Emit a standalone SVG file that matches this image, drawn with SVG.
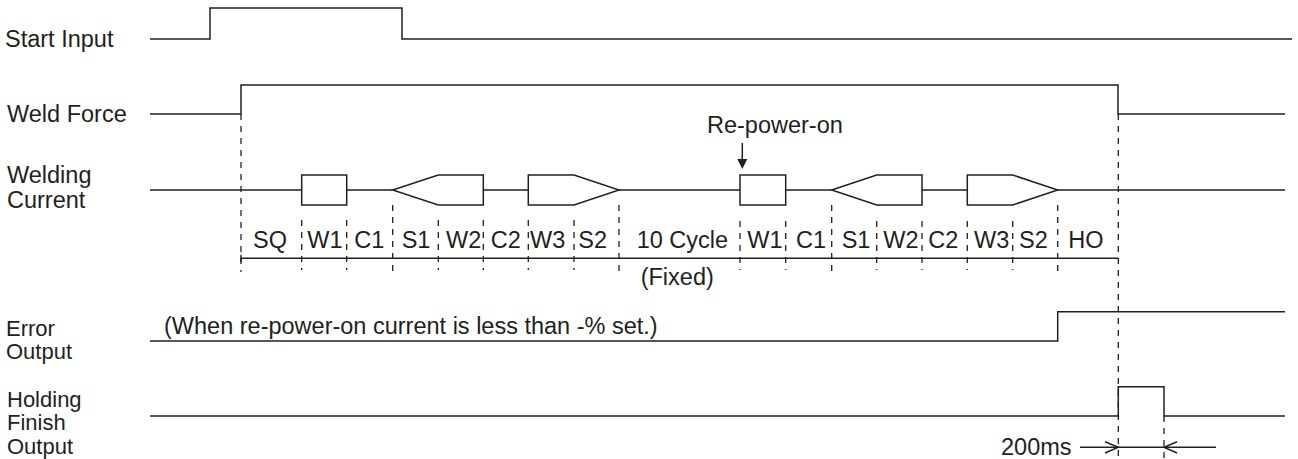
<svg xmlns="http://www.w3.org/2000/svg" width="1298" height="459" viewBox="0 0 1298 459">
<style>
.s{fill:none;stroke:#231f20;stroke-width:1.5;stroke-linejoin:miter}
.w{fill:#fff;stroke:#231f20;stroke-width:1.5}
.d{fill:none;stroke:#231f20;stroke-width:1.3;stroke-dasharray:6 6}
.t{font-family:"Liberation Sans",Arial,sans-serif;font-size:23.5px;fill:#231f20}
.m{font-size:22px}
</style>
<rect width="1298" height="459" fill="#fff"/>
<g id="start-input">
<text class="t" x="5" y="46.5">Start Input</text>
<polyline class="s" points="150,39 210,39 210,8 402,8 402,39 1292,39"/>
</g>
<g id="weld-force">
<text class="t" x="7" y="121.5">Weld Force</text>
<polyline class="s" points="150,114 241,114 241,85 1118,85 1118,114 1285,114"/>
</g>
<g id="welding-current">
<text class="t" x="7" y="183">Welding</text>
<text class="t" x="7" y="208">Current</text>
<path class="s" d="M150,190H301.7M346.7,190H392.7M483.3,190H528.3M619,190H740M785.7,190H831.7M922,190H967.3M1057.7,190H1285"/>
<rect class="w" x="301.7" y="175" width="45" height="30"/>
<polygon class="w" points="392.7,190 438.3,175 483.3,175 483.3,205 438.3,205"/>
<polygon class="w" points="528.3,175 574,175 619,190 574,205 528.3,205"/>
<rect class="w" x="740" y="175" width="45.7" height="30"/>
<polygon class="w" points="831.7,190 876.7,175 922,175 922,205 876.7,205"/>
<polygon class="w" points="967.3,175 1012.7,175 1057.7,190 1012.7,205 967.3,205"/>
<text class="t" x="707" y="132.5">Re-power-on</text>
</g>
<g id="periods">
<text class="t" x="253" y="248.3">SQ</text>
<text class="t" x="307.3" y="248.3">W1</text>
<text class="t" x="354.3" y="248.3">C1</text>
<text class="t" x="401.7" y="248.3">S1</text>
<text class="t" x="446" y="248.3">W2</text>
<text class="t" x="490.7" y="248.3">C2</text>
<text class="t" x="530" y="248.3">W3</text>
<text class="t" x="578.3" y="248.3">S2</text>
<text class="t" x="636.7" y="248.3">10 Cycle</text>
<text class="t" x="640.7" y="284.5">(Fixed)</text>
<text class="t" x="747.3" y="248.3">W1</text>
<text class="t" x="796" y="248.3">C1</text>
<text class="t" x="841.7" y="248.3">S1</text>
<text class="t" x="883.3" y="248.3">W2</text>
<text class="t" x="928.3" y="248.3">C2</text>
<text class="t" x="974" y="248.3">W3</text>
<text class="t" x="1019" y="248.3">S2</text>
<text class="t" x="1068.3" y="248.3">HO</text>
<path class="s" d="M241,258.3H1118M241,255V262"/>
</g>
<g id="error-output">
<text class="t m" x="6" y="335.5">Error</text>
<text class="t m" x="6" y="359">Output</text>
<text class="t" x="164" y="333.5">(When re-power-on current is less than -% set.)</text>
<polyline class="s" points="150,341 1057.7,341 1057.7,311.7 1285,311.7"/>
</g>
<g id="holding-finish-output">
<text class="t m" x="7" y="406.5">Holding</text>
<text class="t m" x="7" y="430">Finish</text>
<text class="t m" x="7" y="453.5">Output</text>
<polyline class="s" points="150,416 1118.3,416 1118.3,386.7 1164,386.7 1164,416 1285,416"/>
<text class="t" x="1001" y="455">200ms</text>
</g>
<g id="connectors">
<path class="d" d="M241,114V272"/>
<path class="d" d="M301.7,220V270M346.7,220V270M438.3,220V270M483.3,220V270M528.3,220V270M574,220V270"/>
<path class="d" d="M392.7,205V273M619,205V273M831.7,205V273M1057.7,205V273"/>
<path class="d" d="M740,221V270M785.7,221V270M876.7,221V270M922,221V270M967.3,221V270M1012.7,221V270"/>
<path class="d" d="M1118.3,114V458"/>
<path class="d" d="M1164,416V458"/>
<path class="s" d="M742.3,143V162"/>
<polygon points="737.3,159 747.3,159 742.3,169" fill="#231f20"/>
<path class="s" d="M1080,447.3H1216"/>
<polyline class="s" points="1105,441.7 1118.3,447.3 1105,453"/>
<polyline class="s" points="1177,441.7 1164,447.3 1177,453"/>
</g>
</svg>
